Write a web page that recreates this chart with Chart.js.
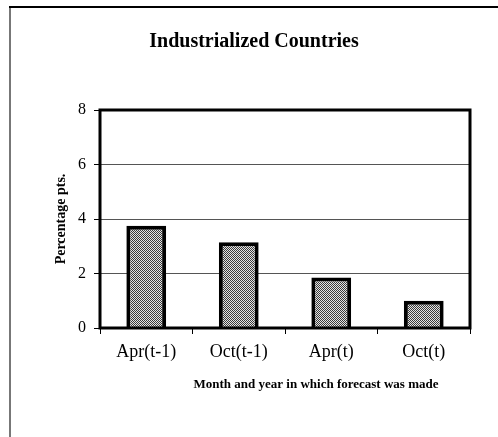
<!DOCTYPE html>
<html>
<head>
<meta charset="utf-8">
<script src="https://cdn.jsdelivr.net/npm/chart.js@4/dist/chart.umd.min.js"></script>
<style>
  html, body { margin: 0; padding: 0; background: #fff; }
  canvas { display: block; }
</style>
</head>
<body>
<canvas id="chart" width="498" height="437"></canvas>
<script>
// ─── Data ────────────────────────────────────────────────────
const categories = ['Apr(t-1)', 'Oct(t-1)', 'Apr(t)', 'Oct(t)'];
const values     = [3.75, 3.15, 1.85, 1.0];
const yMin  = 0;
const yMax  = 8;
const yStep = 2;

const chartTitle = 'Industrialized Countries';
const xTitle     = 'Month and year in which forecast was made';
const yTitle     = 'Percentage pts.';

const SERIF = "'Liberation Serif', 'Times New Roman', serif";

// small hatched tile for the bar fill
function makeHatch() {
  const c = document.createElement('canvas');
  c.width = 4; c.height = 4;
  const g = c.getContext('2d');
  g.fillStyle = '#e4e4e4';
  g.fillRect(0, 0, 4, 4);
  g.fillStyle = '#3a3a3a';
  [[0,0],[1,1],[2,2],[3,3],[2,0],[3,1],[0,2],[1,3]].forEach(([x, y]) => g.fillRect(x, y, 1, 1));
  return g.createPattern(c, 'repeat');
}

// outer frame, plot box and the two horizontal titles
const framePlugin = {
  id: 'frame',
  afterDraw(chart) {
    const { ctx, chartArea: a } = chart;
    ctx.save();
    // page frame (top + left only)
    ctx.strokeStyle = '#777';
    ctx.lineWidth = 2;
    ctx.beginPath();
    ctx.moveTo(10, 6); ctx.lineTo(10, 437);
    ctx.stroke();
    ctx.strokeStyle = '#000';
    ctx.beginPath();
    ctx.moveTo(9, 7); ctx.lineTo(498, 7);
    ctx.stroke();
    // plot box
    ctx.lineWidth = 3;
    ctx.strokeRect(a.left, a.top, a.right - a.left, a.bottom - a.top);
    // titles
    ctx.fillStyle = '#000';
    ctx.textAlign = 'center';
    ctx.textBaseline = 'middle';
    ctx.font = 'bold 20px ' + SERIF;
    ctx.fillText(chartTitle, 254, 42);
    ctx.font = 'bold 13px ' + SERIF;
    ctx.fillText(xTitle, 316, 385);
    ctx.restore();
  },
};

new Chart(document.getElementById('chart'), {
  type: 'bar',
  data: {
    labels: categories,
    datasets: [{
      data:               values,
      backgroundColor:    makeHatch(),
      borderColor:        '#000',
      borderWidth:        4,
      borderSkipped:      'start',
      categoryPercentage: 1.0,
      barPercentage:      0.43,
    }],
  },
  options: {
    responsive: false,
    animation:  false,
    layout: { padding: { top: 110, right: 28, bottom: 0, left: 0 } },
    plugins: {
      legend:  { display: false },
      tooltip: { enabled: false },
      title:   { display: false },
    },
    scales: {
      x: {
        afterFit: s => { s.height = 109; },
        border: { display: false },
        grid: {
          drawOnChartArea: false,
          drawTicks:       true,
          tickLength:      6,
          color:           '#000',
          lineWidth:       1,
        },
        ticks: {
          color:   '#000',
          padding: 7,
          font:    { family: SERIF, size: 18 },
        },
      },
      y: {
        min: yMin,
        max: yMax,
        afterFit: s => { s.width = 100; },
        border: { display: false },
        grid: {
          color:      '#555',
          lineWidth:  1,
          tickLength: 6,
          tickColor:  '#000',
        },
        ticks: {
          stepSize: yStep,
          color:    '#000',
          padding:  8,
          font:     { family: SERIF, size: 16 },
        },
        title: {
          display: true,
          text:    yTitle,
          color:   '#000',
          padding: { top: 53, bottom: 0 },
          font:    { family: SERIF, size: 14, weight: 'bold' },
        },
      },
    },
  },
  plugins: [framePlugin],
});
</script>
</body>
</html>
